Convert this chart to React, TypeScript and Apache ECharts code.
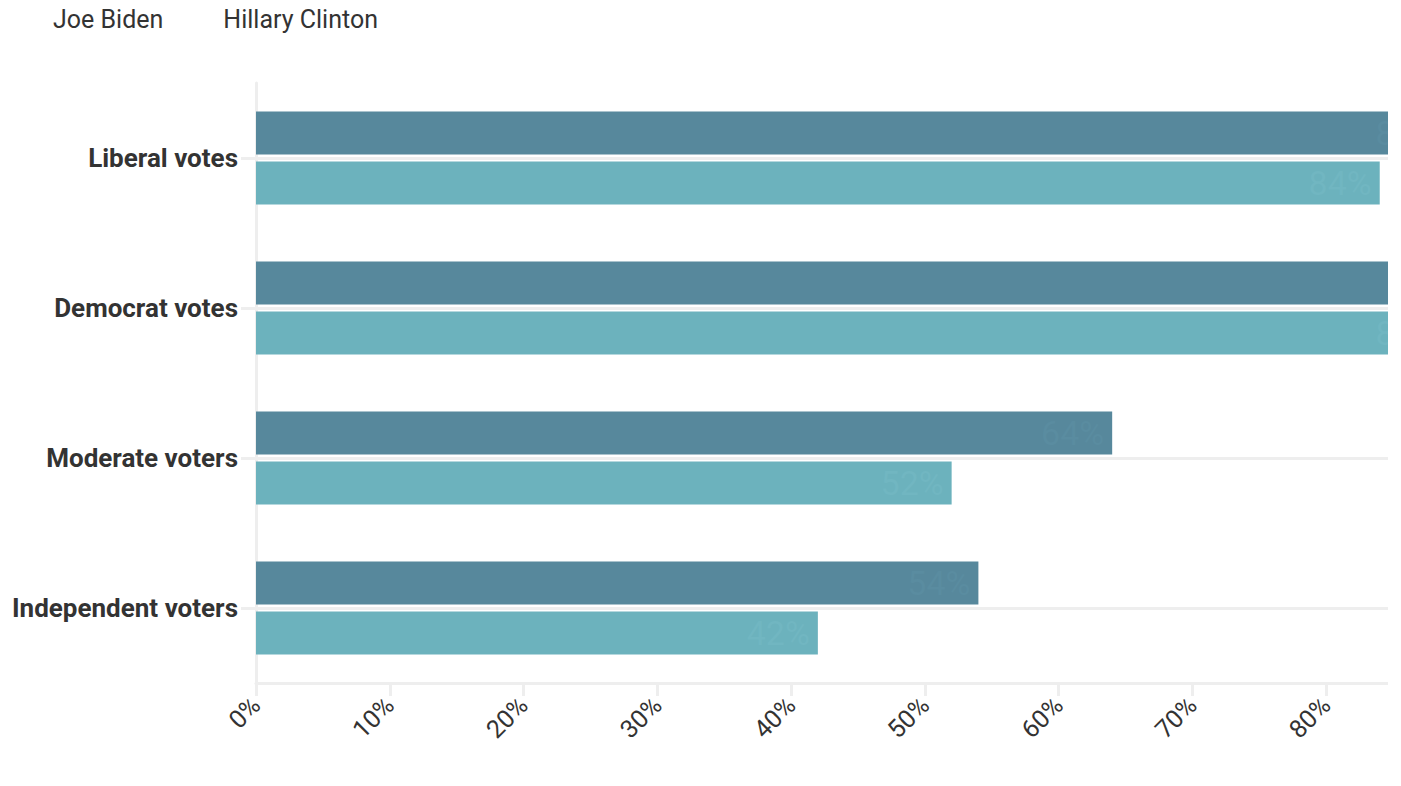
import React, { useEffect, useRef } from "react";
import * as echarts from "echarts";

const categories = ["Liberal votes", "Democrat votes", "Moderate voters", "Independent voters"];
const seriesNames = ["Joe Biden", "Hillary Clinton"];
const bidenValues = [89, 94, 64, 54];
const clintonValues = [84, 89, 52, 42];
const xTicks = { min: 0, max: 90, interval: 10 };

const FONT = "Roboto, 'Noto Sans', sans-serif";

export default function App() {
  const ref = useRef<HTMLDivElement>(null);
  useEffect(() => {
    if (!ref.current) return;
    const chart = echarts.init(ref.current, null, { renderer: "svg" });
    const labelCommon = {
      show: true,
      position: "insideRight",
      distance: 8,
      fontSize: 34,
      fontFamily: FONT,
      formatter: "{c}%",
    };
    chart.setOption({
      animation: false,
      legend: {
        data: seriesNames,
        left: 30,
        top: -1,
        padding: 0,
        icon: "rect",
        itemWidth: 10,
        itemHeight: 10,
        itemGap: 45,
        itemStyle: { opacity: 0 },
        selectedMode: false,
        textStyle: { fontSize: 25, fontFamily: FONT, color: "#333" },
      },
      grid: { left: 248, top: 75, width: 1204, height: 600, containLabel: false, outerBoundsMode: "none" },
      xAxis: {
        type: "value",
        min: xTicks.min,
        max: xTicks.max,
        interval: xTicks.interval,
        axisLine: { show: true, lineStyle: { color: "#eeeeee", width: 3 } },
        axisTick: { show: true, length: 13, lineStyle: { color: "#eeeeee", width: 3 } },
        splitLine: { show: false },
        axisLabel: {
          formatter: "{value}%",
          rotate: 45,
          margin: 18,
          fontSize: 25,
          color: "#333",
          fontFamily: FONT,
          showMaxLabel: false,
        },
      },
      yAxis: {
        type: "category",
        data: categories,
        inverse: true,
        axisLine: { show: true, lineStyle: { color: "#eeeeee", width: 3 } },
        axisTick: { show: true, alignWithLabel: true, length: 15, lineStyle: { color: "#eeeeee", width: 3 } },
        splitLine: { show: false },
        axisLabel: {
          margin: 18,
          fontSize: 26,
          fontWeight: "bold",
          color: "#333",
          fontFamily: FONT,
        },
      },
      series: [
        {
          name: seriesNames[0],
          type: "bar",
          data: bidenValues,
          barWidth: 43,
          barGap: "16%",
          clip: false,
          itemStyle: { color: "#57889c" },
          label: { ...labelCommon, color: "#5a8ca0" },
        },
        {
          name: seriesNames[1],
          type: "bar",
          data: clintonValues,
          barWidth: 43,
          barGap: "16%",
          clip: false,
          itemStyle: { color: "#6cb2bd" },
          label: { ...labelCommon, color: "#71b6c1" },
        },
        {
          name: "center-lines",
          type: "line",
          data: [],
          silent: true,
          markLine: {
            silent: true,
            symbol: "none",
            label: { show: false },
            lineStyle: { color: "#eeeeee", width: 3, type: "solid" },
            data: categories.map((c) => ({ yAxis: c })),
          },
        },
      ],
    });
    return () => chart.dispose();
  }, []);
  return <div ref={ref} style={{ width: 1380, height: 770, overflow: "hidden" }} />;
}
